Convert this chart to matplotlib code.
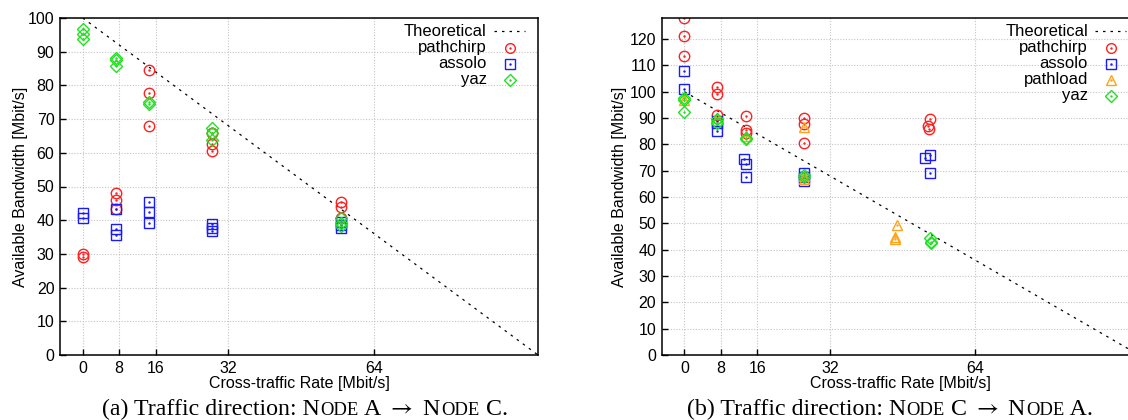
import numpy as np
import matplotlib.pyplot as plt
from matplotlib.offsetbox import TextArea, HPacker, AnnotationBbox

# ---- data: panel (a) NODE A -> NODE C ----
pathchirp_a_x = [0, 0, 7.3, 7.3, 7.3, 14.5, 14.5, 14.5, 28.3, 28.3, 28.3, 56.8, 56.8, 56.8]
pathchirp_a_y = [30.0, 29.0, 48.2, 46.0, 43.3, 84.6, 77.8, 68.0, 66.0, 62.5, 60.6, 45.5, 44.0, 40.6]
assolo_a_x = [0, 0, 7.3, 7.3, 7.3, 14.5, 14.5, 14.5, 28.3, 28.3, 28.3, 56.8, 56.8, 56.8]
assolo_a_y = [42.1, 40.8, 43.2, 37.3, 35.6, 45.4, 42.3, 39.3, 38.9, 37.6, 36.8, 39.6, 38.7, 37.8]
yaz_a_x = [0, 0, 0, 7.3, 7.3, 7.3, 14.5, 14.5, 28.3, 28.3, 28.3, 56.8, 56.8, 56.8]
yaz_a_y = [96.7, 95.2, 93.7, 88.2, 87.5, 85.8, 75.2, 74.5, 67.3, 66.0, 63.8, 40.6, 39.3, 38.3]

# ---- data: panel (b) NODE C -> NODE A ----
pathchirp_b_x = [0, 0, 0, 7.1, 7.1, 7.1, 13.5, 13.5, 13.5, 26.4, 26.4, 26.4, 54.0, 53.6, 53.8]
pathchirp_b_y = [128.0, 121.0, 113.4, 101.8, 99.1, 91.0, 90.6, 85.5, 84.5, 90.0, 87.7, 80.7, 89.6, 86.8, 86.0]
assolo_b_x = [0, 0, 7.1, 7.1, 7.1, 13.2, 13.5, 13.6, 26.4, 26.4, 26.4, 54.0, 52.9, 54.0]
assolo_b_y = [107.7, 101.0, 89.0, 88.3, 85.2, 74.4, 72.5, 67.6, 69.0, 67.5, 66.2, 76.0, 75.0, 69.1]
pathload_b_x = [0, 7.1, 13.5, 26.4, 26.4, 26.4, 46.7, 46.3, 46.3]
pathload_b_y = [97.0, 90.0, 83.0, 86.6, 68.0, 67.0, 49.2, 44.7, 44.0]
yaz_b_x = [0, 0, 0, 7.1, 7.1, 13.5, 13.5, 26.4, 26.4, 54.0, 54.2, 54.3]
yaz_b_y = [97.6, 96.8, 92.3, 89.6, 88.1, 82.4, 82.0, 68.5, 67.5, 44.4, 43.1, 42.6]

theo_x = [0, 100]
theo_y = [100, 0]

x_ticks = [0, 8, 16, 32, 64]

red = "#ff2020"
blue = "#1a1aff"
orange = "#ffa41a"
green = "#22e022"

plt.rcParams["font.family"] = ["Liberation Sans", "DejaVu Sans"]
plt.rcParams["font.size"] = 11.5
plt.rcParams["mathtext.fontset"] = "stix"

fig = plt.figure(figsize=(11.28, 4.2), dpi=100)
ax_a = fig.add_axes([60 / 1128, 1 - 355 / 420, 478 / 1128, 337 / 420])
ax_b = fig.add_axes([661.7 / 1128, 1 - 355 / 420, 477.3 / 1128, 337 / 420])


def scatter(ax, xs, ys, marker, color, ms=7.5):
    ax.plot(xs, ys, linestyle="none", marker=marker, markersize=ms,
            markerfacecolor="none", markeredgecolor=color, markeredgewidth=1.0)
    ax.plot(xs, ys, linestyle="none", marker=".", markersize=1.5, color=color)


def setup(ax, ymax, yticks):
    ax.set_xlim(-5, 100)
    ax.set_ylim(0, ymax)
    ax.set_xticks(x_ticks)
    ax.set_yticks(yticks)
    ax.grid(True, color="#c4c4c4", linestyle=(0, (1, 1.5)), linewidth=0.8)
    ax.set_axisbelow(True)
    ax.tick_params(direction="in", length=4, width=1, pad=4, labelsize=11.5)
    for s in ax.spines.values():
        s.set_linewidth(1.1)
    ax.set_xlabel("Cross-traffic Rate [Mbit/s]", fontsize=11.5)
    ax.set_ylabel("Available Bandwidth [Mbit/s]", fontsize=11.5)
    ax.xaxis.set_label_coords(0.5, -0.062)


def key(ax, rows):
    # gnuplot-like key: right-aligned text, sample to the right
    y0, dy = 0.960, 0.0478
    for i, (label, kind, color) in enumerate(rows):
        y = y0 - i * dy
        ax.text(0.893, y, label, transform=ax.transAxes, ha="right", va="center", fontsize=12)
        if kind == "line":
            ax.plot([0.908, 0.972], [y, y], transform=ax.transAxes, color="black",
                    linestyle=(0, (2, 4)), linewidth=0.9, clip_on=False)
        else:
            ax.plot([0.941], [y], transform=ax.transAxes, marker=kind,
                    markersize=6.5 if kind == "D" else 7,
                    markerfacecolor="none", markeredgecolor=color, markeredgewidth=1.0,
                    linestyle="none", clip_on=False)
            ax.plot([0.941], [y], transform=ax.transAxes, marker=".", markersize=1.5,
                    color=color, linestyle="none", clip_on=False)


# ---- panel (a) ----
setup(ax_a, 100, np.arange(0, 101, 10))
ax_a.plot(theo_x, theo_y, color="black", linestyle=(0, (2, 4)), linewidth=0.9)
scatter(ax_a, pathchirp_a_x, pathchirp_a_y, "o", red)
scatter(ax_a, assolo_a_x, assolo_a_y, "s", blue)
scatter(ax_a, yaz_a_x, yaz_a_y, "D", green, ms=6.5)
ax_a.yaxis.set_label_coords(-0.067, 0.5)
key(ax_a, [("Theoretical", "line", "black"), ("pathchirp", "o", red),
           ("assolo", "s", blue), ("yaz", "D", green)])

# ---- panel (b) ----
setup(ax_b, 128, np.arange(0, 121, 10))
ax_b.plot(theo_x, theo_y, color="black", linestyle=(0, (2, 4)), linewidth=0.9)
scatter(ax_b, pathchirp_b_x, pathchirp_b_y, "o", red)
scatter(ax_b, assolo_b_x, assolo_b_y, "s", blue)
scatter(ax_b, pathload_b_x, pathload_b_y, "^", orange)
scatter(ax_b, yaz_b_x, yaz_b_y, "D", green, ms=6.5)
ax_b.yaxis.set_label_coords(-0.0717, 0.5)
key(ax_b, [("Theoretical", "line", "black"), ("pathchirp", "o", red),
           ("assolo", "s", blue), ("pathload", "^", orange), ("yaz", "D", green)])


# ---- captions with small caps ----
def caption(parts, cx):
    serif = ["Liberation Serif", "DejaVu Serif"]
    boxes = []
    for txt, small in parts:
        boxes.append(TextArea(txt, textprops=dict(fontsize=13.4 if small else 17.2, family=serif)))
    pack = HPacker(children=boxes, align="baseline", pad=0, sep=0)
    ab = AnnotationBbox(pack, (cx, 11), xycoords="figure pixels", frameon=False,
                        box_alignment=(0.5, 0.5), pad=0)
    fig.add_artist(ab)


caption([("(a) Traffic direction: N", False), ("ODE", True), (r" A $\rightarrow$ N", False),
         ("ODE", True), (" C.", False)], 305)
caption([("(b) Traffic direction: N", False), ("ODE", True), (r" C $\rightarrow$ N", False),
         ("ODE", True), (" A.", False)], 890)

fig.savefig("out.png", dpi=100)
